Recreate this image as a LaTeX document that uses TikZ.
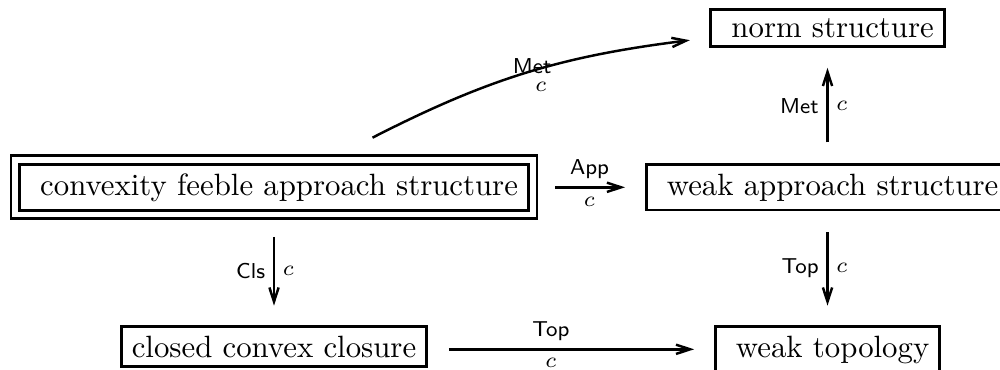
\documentclass[tikz,border=0pt]{standalone}
\usetikzlibrary{arrows.meta}

\begin{document}
\begin{tikzpicture}[>={Straight Barb[length=4.6pt,width=3pt]}, x=0.3247pt, y=0.3247pt,
    box/.style={draw, line width=0.9pt, inner xsep=3.4pt, inner ysep=2.9pt, anchor=base},
    dbox/.style={box, double, double distance=1.85pt, inner xsep=4.8pt, inner ysep=4.3pt},
    arr/.style={->, line width=0.8pt, shorten <=6.8pt, shorten >=6.4pt},
    lbl/.style={font=\scriptsize, inner sep=1pt}]
  \useasboundingbox (0,0) rectangle (1000,369);
  % objects
  \node[box]  (ns) at (827.5,331.5) {\ norm structure};
  \node[dbox] (cf) at (274,174) {\ convexity feeble approach structure};
  \node[box]  (wa) at (827.5,174) {\ weak approach structure};
  \node[box]  (cc) at (274,12) {closed convex closure};
  \node[box]  (wt) at (827.5,12) {\ weak topology};
  % arrows
  \draw[arr] (wa.north) -- node[lbl, left=1.5pt] {$\mathsf{Met}$} node[lbl, right=1.5pt] {$c$} (ns.south);
  \draw[arr] (wa.south) -- node[lbl, left=1.5pt] {$\mathsf{Top}$} node[lbl, right=1.5pt] {$c$} (wt.north);
  \draw[arr] (cf.south) -- node[lbl, left=1.5pt] {$\mathsf{Cls}$} node[lbl, right=1.5pt] {$c$} (cc.north);
  \draw[arr] ([yshift=2.5pt]cf.base east) -- node[lbl, above=1.3pt] {$\mathsf{App}$}
    node[lbl, below=1.8pt] {$c$} ([yshift=2.5pt]wa.base west);
  \draw[arr] ([yshift=2.5pt]cc.base east) -- node[lbl, above=1.5pt, pos=.43] {$\mathsf{Top}$}
    node[lbl, below=1.6pt, pos=.43] {$c$} ([yshift=2.5pt]wt.base west);
  \draw[arr, shorten <=0pt, shorten >=0pt] ([shift={(98.5,21)}]cf.north) to[bend left=10]
    node[lbl, pos=.52, above=-2.2pt] {$\mathsf{Met}$} node[lbl, pos=.55, below=3pt] {$c$}
    ([shift={(-19.5,-12)}]ns.west);
\end{tikzpicture}
\end{document}
